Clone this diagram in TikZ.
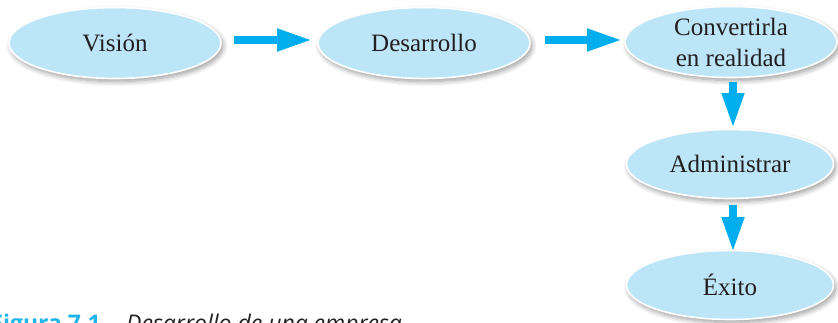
\documentclass[tikz,border=0pt]{standalone}
\usepackage{fontspec}
\setmainfont{Liberation Serif}
\newfontfamily\capfont{Open Sans}
\usetikzlibrary{shapes.geometric,arrows.meta,shadows.blur}
\definecolor{ellfill}{HTML}{BDE5F8}
\definecolor{arrcol}{HTML}{00AEEF}
\definecolor{txt}{HTML}{231F20}
\definecolor{capblue}{HTML}{1FB5E8}
\tikzset{
  stage/.style={ellipse, fill=ellfill, draw=white, line width=1.6pt,
    minimum width=212pt, minimum height=71pt, inner sep=0pt, align=center,
    text=txt, font=\fontsize{25}{31}\selectfont,
    blur shadow={shadow xshift=2pt, shadow yshift=-3pt, shadow blur steps=8, shadow blur radius=5pt, shadow opacity=40}},
  flow/.style={draw=arrcol, line width=7.5pt, -{Triangle[length=35pt,width=21pt]}, shorten <=0pt},
}
\begin{document}
\begin{tikzpicture}[x=1pt,y=-1pt]
\useasboundingbox (0,0) rectangle (838,322);
\begin{scope}
\clip (0,0) rectangle (838,322);
\node[stage] (vision) at (115,43) {Visión};
\node[stage] (desarrollo) at (424,43) {Desarrollo};
\node[stage] (convertir) at (731,42) {Convertirla\\en realidad};
\node[stage, minimum width=207pt, minimum height=69pt] (admin) at (730,164) {Administrar};
\node[stage, minimum width=207pt, minimum height=69pt] (exito) at (730,285) {Éxito};
\coordinate (a1s) at (234,40); \coordinate (a1e) at (312,40);
\coordinate (a2s) at (545,40); \coordinate (a2e) at (622,40);
\coordinate (a3s) at (733,82); \coordinate (a3e) at (733,128);
\coordinate (a4s) at (733,205); \coordinate (a4e) at (733,252);
\draw[flow] (a1s) -- (a1e);
\draw[flow] (a2s) -- (a2e);
\draw[flow] (a3s) -- (a3e);
\draw[flow] (a4s) -- (a4e);
\node[anchor=base east, inner sep=0pt, text=capblue, font=\capfont\bfseries\fontsize{23}{27}\selectfont] (figlab) at (101,331) {Figura 7.1};
\node[anchor=base west, inner sep=0pt, text=txt, font=\capfont\itshape\fontsize{23}{27}\selectfont] (figcap) at (126,331) {Desarrollo de una empresa};
\end{scope}
\end{tikzpicture}
\end{document}
